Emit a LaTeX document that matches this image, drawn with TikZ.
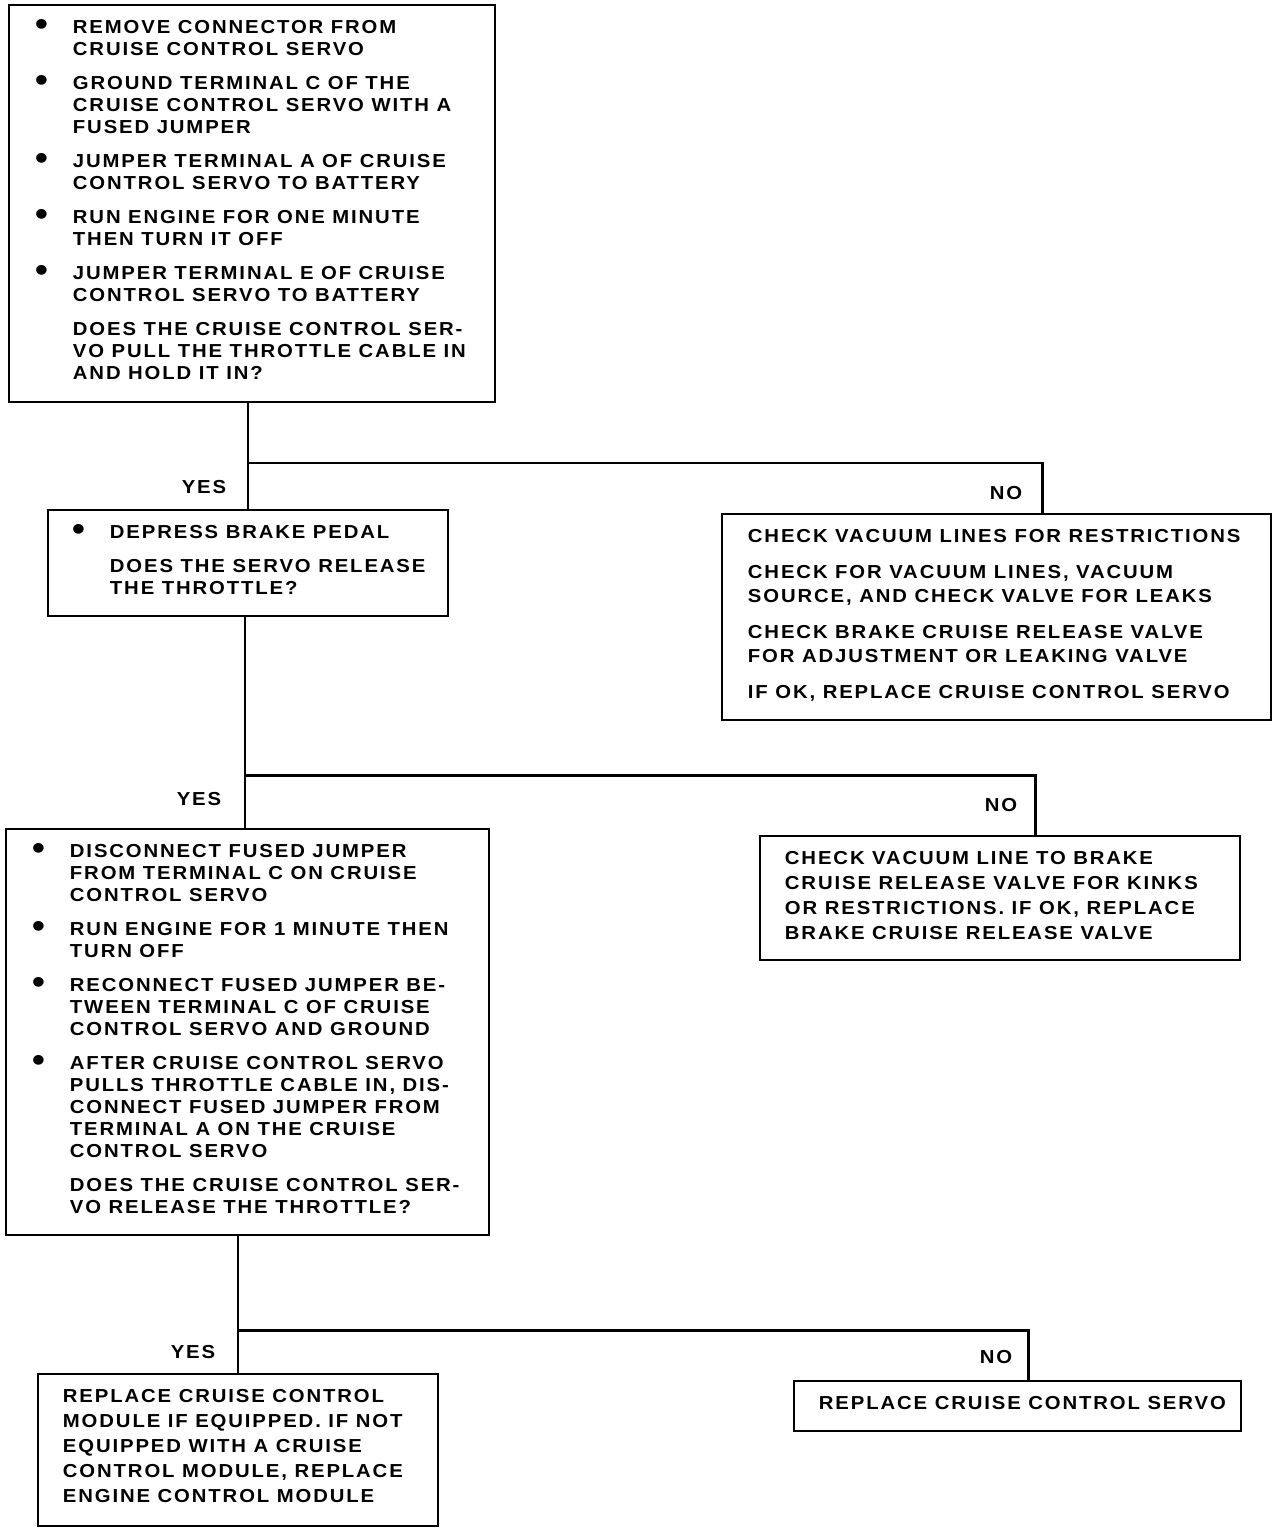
\documentclass[tikz,border=0pt]{standalone}
\usepackage{fontspec}
\setmainfont{Liberation Sans}[LetterSpace=10,FakeStretch=1.08]
\usetikzlibrary{positioning}

% bullet hanging in the left margin of a paragraph
\newcommand{\bul}{\noindent\llap{\raisebox{-1.3pt}{\scalebox{1.8}{\textbullet}}\hspace{0.5cm}}}
% fixed size box, text from the top: [baselineskip]{width}{height}{indent}{text}
\newcommand{\panel}[5][0.44cm]{\parbox[c][#3][t]{#2}{\leftskip=#4\rightskip=0pt plus 1fil\parindent=0pt\parskip=0.24cm\baselineskip=#1\vspace*{0.06cm}#5}}

\begin{document}
\begin{tikzpicture}
    [x=0.02cm, y=-0.02cm,
    % STYLES
    % The step style is used for the boxes of the chart
    stepbox/.style={rectangle, draw, line width=1.1pt, inner sep=0pt, anchor=north west, font=\bfseries\fontsize{10.7}{12.5}\selectfont},
    % The answer style is used for the YES / NO labels
    answer/.style={inner sep=0pt, font=\bfseries\fontsize{10.7}{12.5}\selectfont},
    link/.style={line width=1.7pt}]
    \useasboundingbox (0,0) rectangle (1280,1528);

    % Draw boxes
    \node [stepbox] (servo) at (8,4) {\panel{9.72cm}{7.94cm}{1.28cm}{%
      \bul REMOVE CONNECTOR FROM\\CRUISE CONTROL SERVO\par
      \bul GROUND TERMINAL C OF THE\\CRUISE CONTROL SERVO WITH A\\FUSED JUMPER\par
      \bul JUMPER TERMINAL A OF CRUISE\\CONTROL SERVO TO BATTERY\par
      \bul RUN ENGINE FOR ONE MINUTE\\THEN TURN IT OFF\par
      \bul JUMPER TERMINAL E OF CRUISE\\CONTROL SERVO TO BATTERY\par
      DOES THE CRUISE CONTROL SER-\\VO PULL THE THROTTLE CABLE IN\\AND HOLD IT IN?\par}};
    \node [stepbox] (brake) at (47,509) {\panel{8cm}{2.12cm}{1.24cm}{%
      \bul DEPRESS BRAKE PEDAL\par
      DOES THE SERVO RELEASE\\THE THROTTLE?\par}};
    \node [stepbox] (leaks) at (721,513) {\panel[0.48cm]{10.98cm}{4.12cm}{0.52cm}{%
      CHECK VACUUM LINES FOR RESTRICTIONS\par
      CHECK FOR VACUUM LINES, VACUUM\\SOURCE, AND CHECK VALVE FOR LEAKS\par
      CHECK BRAKE CRUISE RELEASE VALVE\\FOR ADJUSTMENT OR LEAKING VALVE\par
      IF OK, REPLACE CRUISE CONTROL SERVO\par}};
    \node [stepbox] (release) at (5,828) {\panel{9.66cm}{8.12cm}{1.28cm}{%
      \bul DISCONNECT FUSED JUMPER\\FROM TERMINAL C ON CRUISE\\CONTROL SERVO\par
      \bul RUN ENGINE FOR 1 MINUTE THEN\\TURN OFF\par
      \bul RECONNECT FUSED JUMPER BE-\\TWEEN TERMINAL C OF CRUISE\\CONTROL SERVO AND GROUND\par
      \bul AFTER CRUISE CONTROL SERVO\\PULLS THROTTLE CABLE IN, DIS-\\CONNECT FUSED JUMPER FROM\\TERMINAL A ON THE CRUISE\\CONTROL SERVO\par
      DOES THE CRUISE CONTROL SER-\\VO RELEASE THE THROTTLE?\par}};
    \node [stepbox] (kinks) at (759,835) {\panel[0.5cm]{9.6cm}{2.48cm}{0.5cm}{%
      CHECK VACUUM LINE TO BRAKE\\CRUISE RELEASE VALVE FOR KINKS\\OR RESTRICTIONS. IF OK, REPLACE\\BRAKE CRUISE RELEASE VALVE\par}};
    \node [stepbox] (module) at (37,1373) {\panel[0.5cm]{8cm}{3.04cm}{0.5cm}{%
      REPLACE CRUISE CONTROL\\MODULE IF EQUIPPED. IF NOT\\EQUIPPED WITH A CRUISE\\CONTROL MODULE, REPLACE\\ENGINE CONTROL MODULE\par}};
    \node [stepbox] (newservo) at (793,1380) {\panel{8.94cm}{1cm}{0.5cm}{%
      REPLACE CRUISE CONTROL SERVO\par}};

    % Draw the links between boxes
    \coordinate (fork1) at (248,463);
    \coordinate (fork2) at (245,775);
    \coordinate (fork3) at (238,1330);
    \draw [link] (servo.south -| fork1) -- (fork1 |- brake.north);
    \draw [link] (fork1) -| (leaks.north -| 1042,0);
    \draw [link] (brake.south -| fork2) -- (fork2 |- release.north);
    \draw [link] (fork2) -| (kinks.north -| 1035,0);
    \draw [link] (release.south -| fork3) -- (fork3 |- module.north);
    \draw [link] (fork3) -| (newservo.north -| 1028,0);

    % Answers
    \node [answer] (yes1) at (204,487) {YES};
    \node [answer] (no1) at (1006,493) {NO};
    \node [answer] (yes2) at (199,799) {YES};
    \node [answer] (no2) at (1001,805) {NO};
    \node [answer] (yes3) at (193,1352) {YES};
    \node [answer] (no3) at (996,1357) {NO};
\end{tikzpicture}
\end{document}
